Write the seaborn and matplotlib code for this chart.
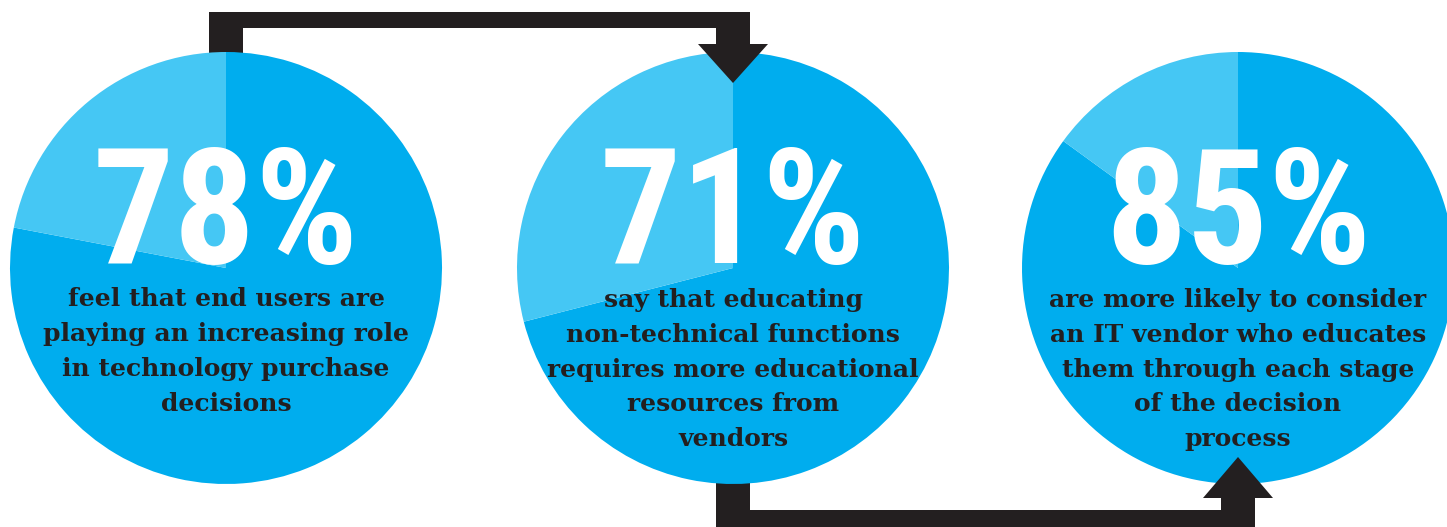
import numpy as np
import matplotlib.pyplot as plt
import seaborn as sns
from matplotlib import font_manager
from matplotlib.font_manager import FontProperties
from matplotlib.textpath import TextPath

# data
pcts = [78, 71, 85]
big_labels = ["78%", "71%", "85%"]
captions = [
    "feel that end users are\nplaying an increasing role\nin technology purchase\ndecisions",
    "say that educating\nnon-technical functions\nrequires more educational\nresources from\nvendors",
    "are more likely to consider\nan IT vendor who educates\nthem through each stage\nof the decision\nprocess",
]

sns.set_theme(style="white")
dark, light = "#00adee", "#45c7f4"
ink = "#231f20"

W, H = 1447, 527
fig = plt.figure(figsize=(W / 100, H / 100), dpi=100)
ax = fig.add_axes([0, 0, 1, 1])

cx = [226, 733, 1238]
cy = H - 268
r = 216

def fy(y):
    return H - y

# pies
for x, p in zip(cx, pcts):
    ax.pie([p, 100 - p], colors=[dark, light], startangle=90, counterclock=False,
           center=(x, cy), radius=r, wedgeprops=dict(linewidth=0), frame=True)
    for w in ax.patches[-2:]:
        w.set_zorder(2)

# connectors
top = [(cx[0] - 17, 120), (cx[0] - 17, 12), (cx[1] + 17, 12), (cx[1] + 17, 44),
       (cx[1] - 17, 44), (cx[1] - 17, 28), (cx[0] + 17, 28), (cx[0] + 17, 120)]
bot = [(cx[1] - 17, 440), (cx[1] - 17, 540), (cx[2] + 17, 540), (cx[2] + 17, 498),
       (cx[2] - 17, 498), (cx[2] - 17, 510), (cx[1] + 17, 510), (cx[1] + 17, 440)]
for poly in (top, bot):
    xs, ys = zip(*poly)
    ax.fill(xs, [fy(v) for v in ys], color=ink, lw=0, zorder=1)
head1 = [(cx[1] - 35, 44), (cx[1] + 35, 44), (cx[1], 83)]
head2 = [(cx[2] - 35, 498), (cx[2] + 35, 498), (cx[2], 457)]
for poly in (head1, head2):
    xs, ys = zip(*poly)
    ax.fill(xs, [fy(v) for v in ys], color=ink, lw=0, zorder=3)

# pick the narrowest bold sans available for the big numbers
names = {f.name for f in font_manager.fontManager.ttflist}
big_font, big_stretch = "DejaVu Sans", "normal"
for cand in ["Liberation Sans Narrow", "Roboto Condensed", "Open Sans Condensed",
             "Noto Sans Condensed", "DejaVu Sans Condensed", "Arial Narrow"]:
    if cand in names:
        big_font = cand
        break
else:
    for f in font_manager.fontManager.ttflist:
        if "condensed" in str(f.stretch) and f.name in ("Noto Sans", "Roboto", "Open Sans", "DejaVu Sans"):
            big_font, big_stretch = f.name, "condensed"
            break

fp = FontProperties(family=big_font, weight="bold", stretch=big_stretch)
ext = TextPath((0, 0), "78%", size=100, prop=fp).get_extents()
# size so glyph height ~ 118 px but width stays under ~310 px
px = 100 / 72
size = min(118 / (ext.height * px) * 100, 310 / (ext.width * px) * 100)

line_px = 35.3
for x, lab, cap in zip(cx, big_labels, captions):
    ax.text(x, fy(263), lab, ha="center", va="baseline", color="white",
            fontproperties=FontProperties(family=[big_font, "DejaVu Sans"], weight="bold",
                                          stretch=big_stretch, size=size), zorder=4)
    n = cap.count("\n")
    ax.text(x, fy(305 + n * line_px), cap, ha="center", va="baseline", color=ink,
            family=["DejaVu Serif"], fontweight="bold", fontsize=18,
            linespacing=1.57, zorder=4, multialignment="center")

ax.set_xlim(0, W)
ax.set_ylim(0, H)
ax.set_aspect("equal")
ax.axis("off")
fig.savefig("out.png", dpi=100)
